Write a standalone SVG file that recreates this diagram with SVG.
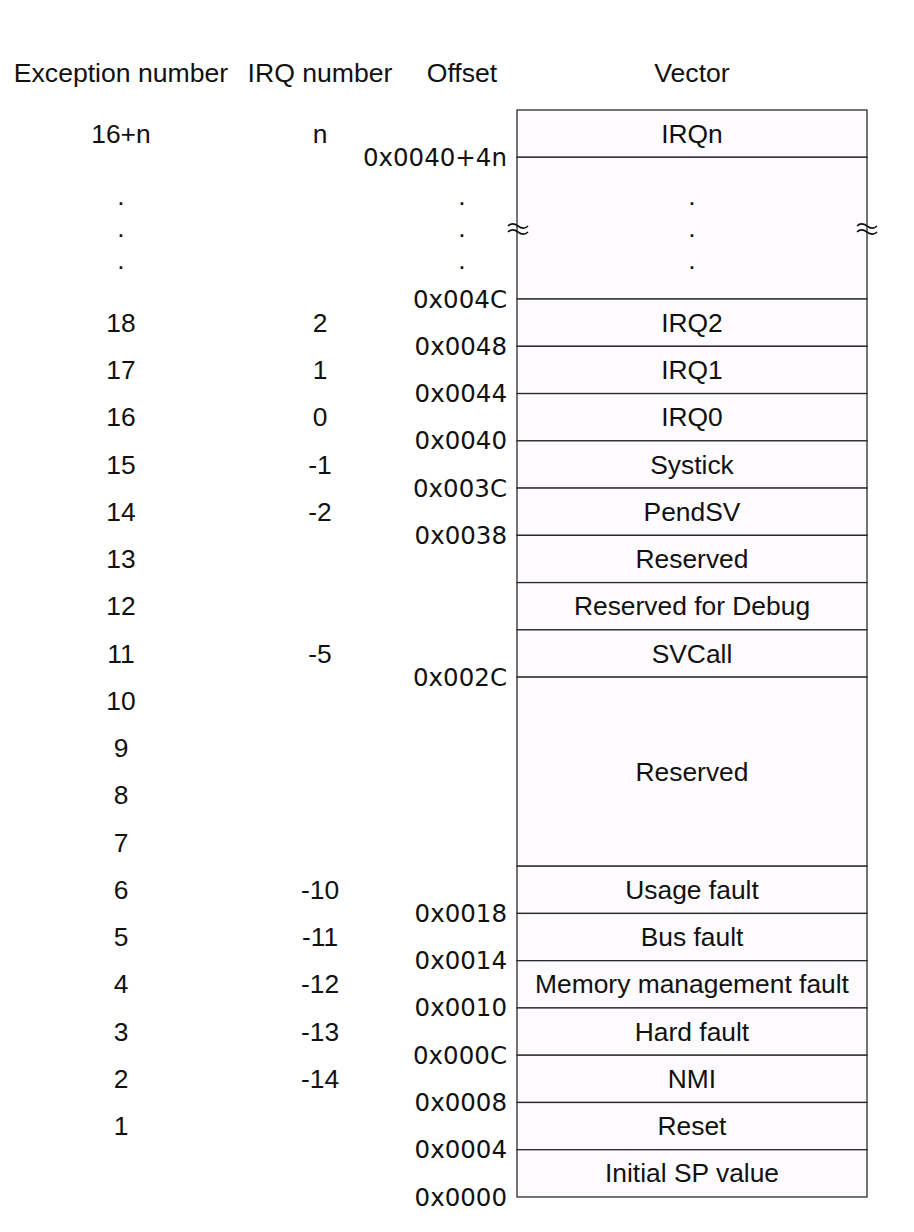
<svg xmlns="http://www.w3.org/2000/svg" width="914" height="1232" viewBox="0 0 914 1232">
<style>
  .t { font-family: "Liberation Sans", Arial, sans-serif; font-size: 26.4px; fill: #111; text-anchor: middle; }
  .h { font-family: "Liberation Sans", Arial, sans-serif; font-size: 26.6px; fill: #111; text-anchor: middle; }
  .o { font-family: "DejaVu Sans", Verdana, sans-serif; font-size: 24.5px; fill: #111; text-anchor: end; }
  .cell { fill: #fdfbfe; stroke: #2a2a2a; stroke-width: 1.3; }
  .brk { fill: none; stroke: #111; stroke-width: 1.6; }
</style>
<rect x="0" y="0" width="914" height="1232" fill="#ffffff"/>

<g id="headers">
  <text class="h" x="121" y="82">Exception number</text>
  <text class="h" x="320" y="82">IRQ number</text>
  <text class="h" x="462" y="82">Offset</text>
  <text class="h" x="692" y="82">Vector</text>
</g>

<g id="vector-table">
  <g id="row-irqn"><rect class="cell" x="517" y="110" width="350" height="47.26"/><text class="t" x="692" y="142.6">IRQn</text></g>
  <g id="row-gap"><rect class="cell" x="517" y="157.26" width="350" height="141.78"/>
    <text class="t" x="692" y="205">.</text><text class="t" x="692" y="237">.</text><text class="t" x="692" y="269">.</text></g>
  <g id="row-irq2"><rect class="cell" x="517" y="299.04" width="350" height="47.26"/><text class="t" x="692" y="331.7">IRQ2</text></g>
  <g id="row-irq1"><rect class="cell" x="517" y="346.3" width="350" height="47.26"/><text class="t" x="692" y="378.9">IRQ1</text></g>
  <g id="row-irq0"><rect class="cell" x="517" y="393.56" width="350" height="47.26"/><text class="t" x="692" y="426.2">IRQ0</text></g>
  <g id="row-systick"><rect class="cell" x="517" y="440.82" width="350" height="47.26"/><text class="t" x="692" y="473.5">Systick</text></g>
  <g id="row-pendsv"><rect class="cell" x="517" y="488.08" width="350" height="47.26"/><text class="t" x="692" y="520.7">PendSV</text></g>
  <g id="row-reserved1"><rect class="cell" x="517" y="535.34" width="350" height="47.26"/><text class="t" x="692" y="568">Reserved</text></g>
  <g id="row-debug"><rect class="cell" x="517" y="582.6" width="350" height="47.26"/><text class="t" x="692" y="615.2">Reserved for Debug</text></g>
  <g id="row-svcall"><rect class="cell" x="517" y="629.86" width="350" height="47.26"/><text class="t" x="692" y="662.5">SVCall</text></g>
  <g id="row-reserved2"><rect class="cell" x="517" y="677.12" width="350" height="189.04"/><text class="t" x="692" y="780.6">Reserved</text></g>
  <g id="row-usage"><rect class="cell" x="517" y="866.16" width="350" height="47.26"/><text class="t" x="692" y="898.8">Usage fault</text></g>
  <g id="row-bus"><rect class="cell" x="517" y="913.42" width="350" height="47.26"/><text class="t" x="692" y="946">Bus fault</text></g>
  <g id="row-mem"><rect class="cell" x="517" y="960.68" width="350" height="47.26"/><text class="t" x="692" y="993.3">Memory management fault</text></g>
  <g id="row-hard"><rect class="cell" x="517" y="1007.94" width="350" height="47.26"/><text class="t" x="692" y="1040.6">Hard fault</text></g>
  <g id="row-nmi"><rect class="cell" x="517" y="1055.2" width="350" height="47.26"/><text class="t" x="692" y="1087.8">NMI</text></g>
  <g id="row-reset"><rect class="cell" x="517" y="1102.46" width="350" height="47.26"/><text class="t" x="692" y="1135.1">Reset</text></g>
  <g id="row-sp"><rect class="cell" x="517" y="1149.72" width="350" height="47.26"/><text class="t" x="692" y="1182.4">Initial SP value</text></g>
</g>

<g id="breaks">
  <path class="brk" d="M508,226 c3,-3 6,-3 10,0 s7,3 10,0 M508,232 c3,-3 6,-3 10,0 s7,3 10,0"/>
  <path class="brk" d="M857,226 c3,-3 6,-3 10,0 s7,3 10,0 M857,232 c3,-3 6,-3 10,0 s7,3 10,0"/>
</g>

<g id="exception-numbers">
  <text class="t" x="121" y="142.6">16+n</text>
  <text class="t" x="121" y="205">.</text><text class="t" x="121" y="237">.</text><text class="t" x="121" y="269">.</text>
  <text class="t" x="121" y="331.7">18</text>
  <text class="t" x="121" y="378.9">17</text>
  <text class="t" x="121" y="426.2">16</text>
  <text class="t" x="121" y="473.5">15</text>
  <text class="t" x="121" y="520.7">14</text>
  <text class="t" x="121" y="568">13</text>
  <text class="t" x="121" y="615.2">12</text>
  <text class="t" x="121" y="662.5">11</text>
  <text class="t" x="121" y="709.7">10</text>
  <text class="t" x="121" y="757">9</text>
  <text class="t" x="121" y="804.3">8</text>
  <text class="t" x="121" y="851.5">7</text>
  <text class="t" x="121" y="898.8">6</text>
  <text class="t" x="121" y="946">5</text>
  <text class="t" x="121" y="993.3">4</text>
  <text class="t" x="121" y="1040.6">3</text>
  <text class="t" x="121" y="1087.8">2</text>
  <text class="t" x="121" y="1135.1">1</text>
</g>

<g id="irq-numbers">
  <text class="t" x="320" y="142.6">n</text>
  <text class="t" x="320" y="331.7">2</text>
  <text class="t" x="320" y="378.9">1</text>
  <text class="t" x="320" y="426.2">0</text>
  <text class="t" x="320" y="473.5">-1</text>
  <text class="t" x="320" y="520.7">-2</text>
  <text class="t" x="320" y="662.5">-5</text>
  <text class="t" x="320" y="898.8">-10</text>
  <text class="t" x="320" y="946">-11</text>
  <text class="t" x="320" y="993.3">-12</text>
  <text class="t" x="320" y="1040.6">-13</text>
  <text class="t" x="320" y="1087.8">-14</text>
</g>

<g id="offsets">
  <text class="o" x="507" y="166">0x0040+4n</text>
  <text class="t" x="462" y="205">.</text><text class="t" x="462" y="237">.</text><text class="t" x="462" y="269">.</text>
  <text class="o" x="507" y="307.5">0x004C</text>
  <text class="o" x="507" y="354.8">0x0048</text>
  <text class="o" x="507" y="402">0x0044</text>
  <text class="o" x="507" y="449.3">0x0040</text>
  <text class="o" x="507" y="496.6">0x003C</text>
  <text class="o" x="507" y="543.8">0x0038</text>
  <text class="o" x="507" y="685.6">0x002C</text>
  <text class="o" x="507" y="921.9">0x0018</text>
  <text class="o" x="507" y="969.2">0x0014</text>
  <text class="o" x="507" y="1016.4">0x0010</text>
  <text class="o" x="507" y="1063.7">0x000C</text>
  <text class="o" x="507" y="1111">0x0008</text>
  <text class="o" x="507" y="1158.2">0x0004</text>
  <text class="o" x="507" y="1205.5">0x0000</text>
</g>
</svg>
